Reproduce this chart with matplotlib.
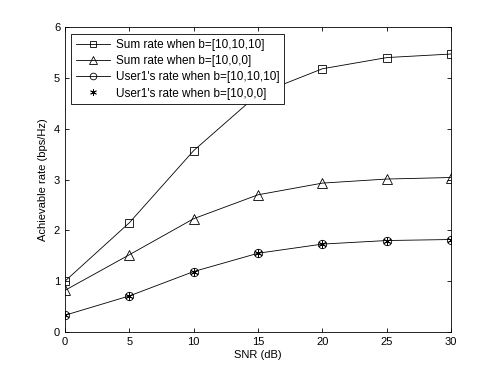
import matplotlib
matplotlib.use('Agg')
import matplotlib.pyplot as plt

plt.rcParams['font.family'] = ['Liberation Sans', 'DejaVu Sans']

# data
snr = [0, 5, 10, 15, 20, 25, 30]
sum_rate_full = [1.00, 2.15, 3.57, 4.68, 5.18, 5.40, 5.47]
sum_rate_single = [0.82, 1.52, 2.23, 2.70, 2.93, 3.01, 3.04]
user1_full = [0.33, 0.71, 1.19, 1.55, 1.73, 1.80, 1.82]
user1_single = [0.33, 0.71, 1.19, 1.55, 1.73, 1.80, 1.82]

fig = plt.figure(figsize=(4.98, 3.76), dpi=100)
ax = fig.add_axes([0.1305, 0.117, 0.7755, 0.811])

ax.plot(snr, sum_rate_full, '-', color='k', lw=0.6, marker='s', ms=5.5,
        mfc='none', mew=0.6, label='Sum rate when b=[10,10,10]')
ax.plot(snr, sum_rate_single, '-', color='k', lw=0.6, marker='^', ms=6.5,
        mfc='none', mew=0.6, label='Sum rate when b=[10,0,0]')
ax.plot(snr, user1_full, '-', color='k', lw=0.6, marker='o', ms=6,
        mfc='none', mew=0.6, label="User1's rate when b=[10,10,10]")
ax.plot(snr, user1_single, color='k', marker=(6, 2, 0), ms=6,
        mew=0.6, linestyle='none', label="User1's rate when b=[10,0,0]")

ax.set_xlim(0, 30)
ax.set_ylim(0, 6)
ax.set_xticks(range(0, 31, 5))
ax.set_yticks(range(0, 7))
ax.tick_params(direction='in', top=True, right=True, labelsize=8, length=3, width=0.6)
for s in ax.spines.values():
    s.set_linewidth(0.6)

ax.set_xlabel('SNR (dB)', fontsize=8, labelpad=2)
ax.set_ylabel('Achievable rate (bps/Hz)', fontsize=8)

leg = ax.legend(loc='upper left', fontsize=8.5, fancybox=False, edgecolor='k',
                framealpha=1, handlelength=2.9, borderpad=0.4, labelspacing=0.35,
                handletextpad=0.5, markerscale=0.8,
                bbox_to_anchor=(0.0, 0.995))
leg.get_frame().set_linewidth(0.6)

fig.savefig('out.png', dpi=100)
